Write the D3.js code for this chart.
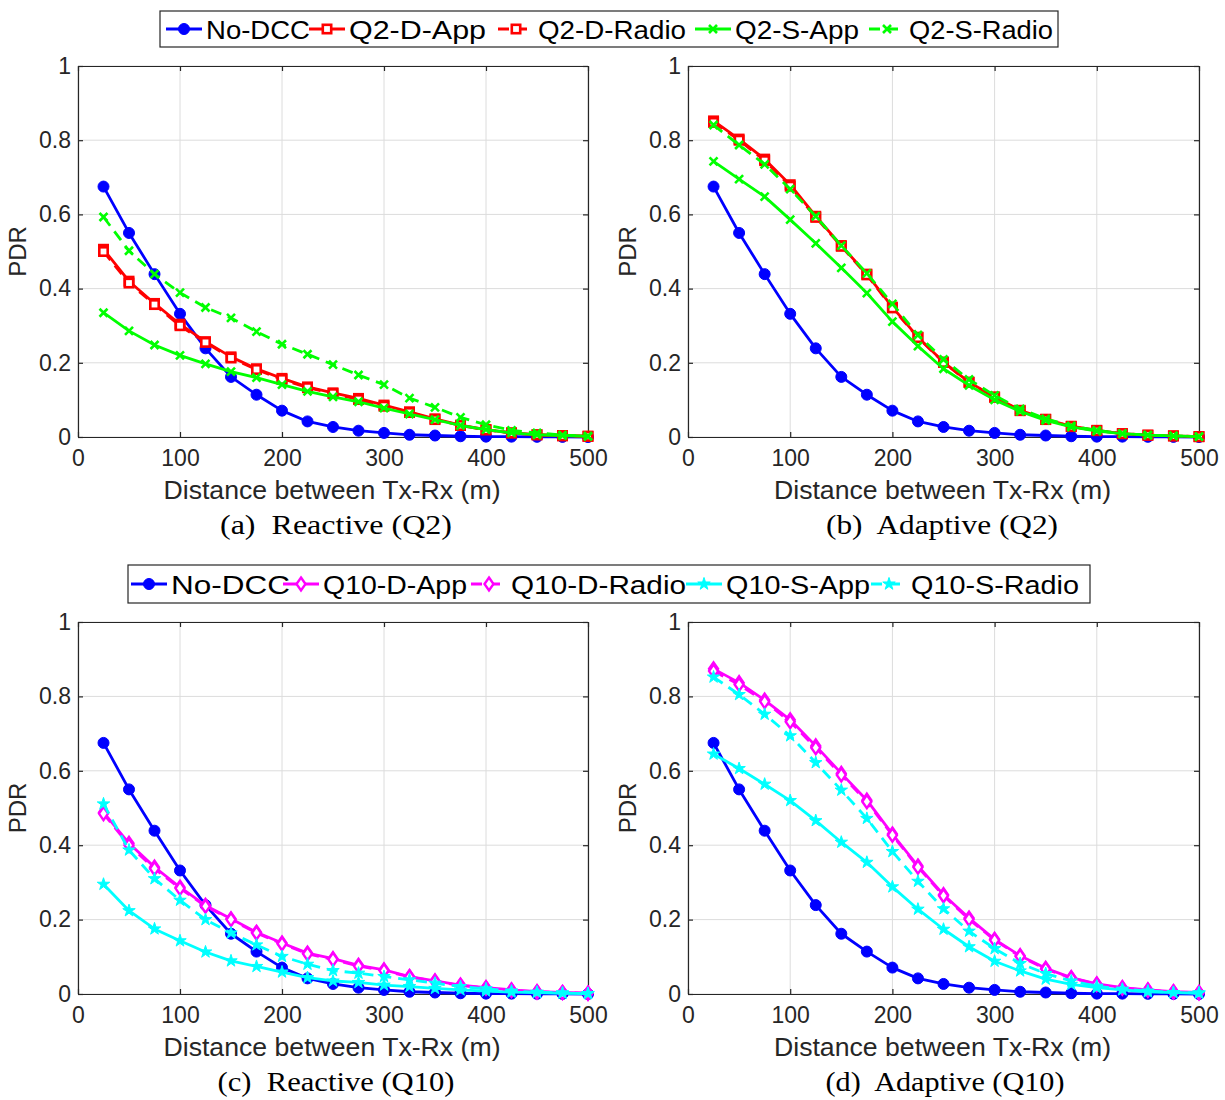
<!DOCTYPE html>
<html>
<head>
    <title>PDR vs distance</title>
    <script src="https://d3js.org/d3.v7.min.js"></script>
    <style>
        body { margin: 0; background: #fff; }
        text { font-family: "Liberation Sans", Arial, sans-serif; }
    </style>
</head>
<body>
    <svg width="1225" height="1100"></svg>
    <script>
        // distances (m)
        var dist = [25, 50, 75, 100, 125, 150, 175, 200, 225, 250, 275, 300, 325, 350, 375, 400, 425, 450, 475, 500];
        var xTicks = [0, 100, 200, 300, 400, 500];
        var yTicks = [0, 0.2, 0.4, 0.6, 0.8, 1];

        var noDCC = [0.675, 0.55, 0.439, 0.332, 0.239, 0.162, 0.114, 0.071, 0.042, 0.027, 0.017, 0.011, 0.006, 0.004, 0.002, 0.001, 0.001, 0.0005, 0.0003, 0];

        // Q2 reactive
        var q2DAppReact   = [0.506, 0.42, 0.36, 0.304, 0.257, 0.216, 0.184, 0.158, 0.135, 0.119, 0.104, 0.086, 0.068, 0.049, 0.032, 0.02, 0.011, 0.006, 0.004, 0.002];
        var q2DRadioReact = [0.50, 0.415, 0.357, 0.30, 0.255, 0.213, 0.182, 0.155, 0.133, 0.117, 0.101, 0.083, 0.066, 0.047, 0.031, 0.019, 0.011, 0.006, 0.003, 0.002];
        var q2SAppReact   = [0.335, 0.286, 0.248, 0.22, 0.197, 0.176, 0.16, 0.141, 0.123, 0.108, 0.095, 0.078, 0.062, 0.047, 0.031, 0.02, 0.011, 0.006, 0.004, 0.002];
        var q2SRadioReact = [0.593, 0.502, 0.439, 0.389, 0.349, 0.321, 0.284, 0.25, 0.223, 0.195, 0.167, 0.141, 0.105, 0.08, 0.053, 0.033, 0.018, 0.011, 0.005, 0.002];

        // Q2 adaptive
        var q2DAppAdapt   = [0.852, 0.803, 0.749, 0.68, 0.595, 0.516, 0.439, 0.35, 0.269, 0.202, 0.148, 0.108, 0.072, 0.048, 0.029, 0.018, 0.009, 0.005, 0.003, 0.001];
        var q2DRadioAdapt = [0.848, 0.80, 0.745, 0.676, 0.592, 0.514, 0.437, 0.348, 0.268, 0.201, 0.147, 0.107, 0.071, 0.047, 0.028, 0.017, 0.009, 0.005, 0.003, 0.001];
        var q2SAppAdapt   = [0.743, 0.695, 0.648, 0.586, 0.522, 0.456, 0.388, 0.311, 0.245, 0.184, 0.139, 0.10, 0.069, 0.045, 0.027, 0.016, 0.009, 0.005, 0.003, 0.001];
        var q2SRadioAdapt = [0.841, 0.787, 0.735, 0.668, 0.595, 0.516, 0.441, 0.359, 0.275, 0.209, 0.155, 0.112, 0.076, 0.049, 0.03, 0.018, 0.009, 0.005, 0.003, 0.001];

        // Q10 reactive
        var q10DAppReact   = [0.488, 0.405, 0.341, 0.287, 0.238, 0.202, 0.166, 0.137, 0.11, 0.095, 0.077, 0.065, 0.047, 0.035, 0.024, 0.017, 0.011, 0.006, 0.004, 0.002];
        var q10DRadioReact = [0.485, 0.40, 0.337, 0.284, 0.236, 0.20, 0.164, 0.135, 0.108, 0.093, 0.075, 0.063, 0.046, 0.034, 0.023, 0.016, 0.01, 0.006, 0.004, 0.002];
        var q10SAppReact   = [0.295, 0.224, 0.175, 0.143, 0.113, 0.089, 0.074, 0.059, 0.044, 0.035, 0.031, 0.024, 0.02, 0.015, 0.011, 0.008, 0.005, 0.004, 0.002, 0.001];
        var q10SRadioReact = [0.511, 0.387, 0.31, 0.252, 0.20, 0.164, 0.132, 0.101, 0.08, 0.063, 0.056, 0.047, 0.038, 0.029, 0.02, 0.014, 0.008, 0.005, 0.003, 0.001];

        // Q10 adaptive
        var q10DAppAdapt   = [0.874, 0.837, 0.79, 0.737, 0.667, 0.593, 0.521, 0.43, 0.344, 0.267, 0.204, 0.147, 0.103, 0.069, 0.044, 0.027, 0.017, 0.011, 0.006, 0.004];
        var q10DRadioAdapt = [0.868, 0.832, 0.786, 0.732, 0.662, 0.589, 0.517, 0.427, 0.341, 0.264, 0.201, 0.145, 0.101, 0.067, 0.043, 0.026, 0.016, 0.01, 0.006, 0.003];
        var q10SAppAdapt   = [0.645, 0.606, 0.564, 0.52, 0.466, 0.408, 0.354, 0.288, 0.228, 0.174, 0.127, 0.088, 0.062, 0.04, 0.026, 0.017, 0.011, 0.006, 0.004, 0.002];
        var q10SRadioAdapt = [0.852, 0.805, 0.752, 0.694, 0.622, 0.548, 0.472, 0.383, 0.303, 0.229, 0.169, 0.122, 0.082, 0.055, 0.035, 0.021, 0.013, 0.008, 0.004, 0.003];

        var legendQ2  = ["No-DCC", "Q2-D-App", "Q2-D-Radio", "Q2-S-App", "Q2-S-Radio"];
        var legendQ10 = ["No-DCC", "Q10-D-App", "Q10-D-Radio", "Q10-S-App", "Q10-S-Radio"];
        var captions = ["(a)  Reactive (Q2)", "(b)  Adaptive (Q2)", "(c)  Reactive (Q10)", "(d)  Adaptive (Q10)"];

        // line styles: [color, marker, dashed]
        var styleQ2 = [
            ["#0000ff", "circle", false],
            ["#ff0000", "square", false],
            ["#ff0000", "square", true],
            ["#00ff00", "cross", false],
            ["#00ff00", "cross", true]
        ];
        var styleQ10 = [
            ["#0000ff", "circle", false],
            ["#ff00ff", "diamond", false],
            ["#ff00ff", "diamond", true],
            ["#00ffff", "star", false],
            ["#00ffff", "star", true]
        ];

        var panels = [
            {left: 78,  top: 66,  w: 510, h: 371, styles: styleQ2,  series: [noDCC, q2DAppReact, q2DRadioReact, q2SAppReact, q2SRadioReact]},
            {left: 688, top: 66,  w: 511, h: 371, styles: styleQ2,  series: [noDCC, q2DAppAdapt, q2DRadioAdapt, q2SAppAdapt, q2SRadioAdapt]},
            {left: 78,  top: 622, w: 510, h: 372, styles: styleQ10, series: [noDCC, q10DAppReact, q10DRadioReact, q10SAppReact, q10SRadioReact]},
            {left: 688, top: 622, w: 511, h: 372, styles: styleQ10, series: [noDCC, q10DAppAdapt, q10DRadioAdapt, q10SAppAdapt, q10SRadioAdapt]}
        ];
        var captionX = [336, 942, 336, 945];
        var captionW = [232, 232, 237, 239];

        var svg = d3.select("svg");
        var axisColor = "#262626";

        function drawMarker(g, type, color) {
            if (type == "circle") {
                g.append("circle").attr("r", 5.5).attr("fill", color).attr("stroke", color);
            } else if (type == "square") {
                g.append("rect").attr("x", -4.2).attr("y", -4.2).attr("width", 8.4).attr("height", 8.4)
                    .attr("fill", "#fff").attr("stroke", color).attr("stroke-width", 2.6);
            } else if (type == "cross") {
                g.append("path").attr("d", "M-4,-4L4,4M-4,4L4,-4")
                    .attr("fill", "none").attr("stroke", color).attr("stroke-width", 2.6);
            } else if (type == "diamond") {
                g.append("path").attr("d", "M0,-6.5L4.5,0L0,6.5L-4.5,0Z")
                    .attr("fill", "#fff").attr("stroke", color).attr("stroke-width", 2.4);
            } else if (type == "star") {
                g.append("path").attr("d", d3.symbol().type(d3.symbolStar).size(48)())
                    .attr("fill", color).attr("stroke", color).attr("stroke-width", 1);
            }
        }

        panels.forEach(function(p, pi) {
            var x = d3.scaleLinear().domain([0, 500]).range([0, p.w]);
            var y = d3.scaleLinear().domain([0, 1]).range([p.h, 0]);
            var g = svg.append("g").attr("transform", "translate(" + p.left + "," + p.top + ")");

            // grid
            g.append("g").selectAll("line").data(xTicks).enter().append("line")
                .attr("x1", function(d) { return x(d); }).attr("x2", function(d) { return x(d); })
                .attr("y1", 0).attr("y2", p.h)
                .attr("stroke", "#dcdcdc").attr("stroke-width", 1);
            g.append("g").selectAll("line").data(yTicks).enter().append("line")
                .attr("y1", function(d) { return y(d); }).attr("y2", function(d) { return y(d); })
                .attr("x1", 0).attr("x2", p.w)
                .attr("stroke", "#dcdcdc").attr("stroke-width", 1);

            // axes, ticks pointing inward on all four sides
            var xb = g.append("g").attr("transform", "translate(0," + p.h + ")")
                .call(d3.axisBottom(x).tickValues(xTicks).tickSize(-5).tickPadding(13).tickSizeOuter(0));
            var xt = g.append("g")
                .call(d3.axisTop(x).tickValues(xTicks).tickSize(-5).tickFormat("").tickSizeOuter(0));
            var yl = g.append("g")
                .call(d3.axisLeft(y).tickValues(yTicks).tickSize(-5).tickPadding(7).tickSizeOuter(0)
                    .tickFormat(function(d) { return d == 0 || d == 1 ? d3.format("d")(d) : d3.format(".1f")(d); }));
            var yr = g.append("g").attr("transform", "translate(" + p.w + ",0)")
                .call(d3.axisRight(y).tickValues(yTicks).tickSize(-5).tickFormat("").tickSizeOuter(0));
            [xb, xt, yl, yr].forEach(function(a) {
                a.select(".domain").attr("stroke", axisColor).attr("stroke-width", 1.2);
                a.selectAll(".tick line").attr("stroke", axisColor).attr("stroke-width", 1.2);
                a.selectAll(".tick text").attr("fill", axisColor).style("font-size", "23px")
                    .style("font-family", "Liberation Sans, Arial, sans-serif");
            });

            // lines + markers
            var line = d3.line()
                .x(function(d, i) { return x(dist[i]); })
                .y(function(d) { return y(d); });

            p.series.forEach(function(vals, si) {
                var st = p.styles[si];
                g.append("path").datum(vals)
                    .attr("d", line)
                    .attr("fill", "none")
                    .attr("stroke", st[0])
                    .attr("stroke-width", 2.8)
                    .attr("stroke-linejoin", "round")
                    .attr("stroke-dasharray", st[2] ? "11,7" : null);
                g.append("g").selectAll("g").data(vals).enter().append("g")
                    .attr("transform", function(d, i) { return "translate(" + x(dist[i]) + "," + y(d) + ")"; })
                    .each(function() { drawMarker(d3.select(this), st[1], st[0]); });
            });

            // labels
            g.append("text")
                .attr("x", p.w / 2 - 1).attr("y", p.h + 62)
                .attr("text-anchor", "middle")
                .attr("fill", axisColor)
                .attr("textLength", 337).attr("lengthAdjust", "spacingAndGlyphs")
                .style("font-size", "25px")
                .text("Distance between Tx-Rx (m)");
            g.append("text")
                .attr("transform", "translate(-52," + (p.h / 2) + ") rotate(-90)")
                .attr("text-anchor", "middle")
                .attr("fill", axisColor)
                .style("font-size", "24px")
                .text("PDR");
            svg.append("text")
                .attr("x", captionX[pi]).attr("y", p.top + p.h + 97)
                .attr("text-anchor", "middle")
                .attr("fill", "#000")
                .attr("textLength", captionW[pi]).attr("lengthAdjust", "spacingAndGlyphs")
                .style("white-space", "pre")
                .style("font-family", "Liberation Serif, Times New Roman, serif")
                .style("font-size", "27px")
                .text(captions[pi]);
        });

        // legends
        function drawLegend(box, names, styles, starts, ends) {
            var lg = svg.append("g");
            lg.append("rect")
                .attr("x", box[0]).attr("y", box[1]).attr("width", box[2] - box[0]).attr("height", box[3] - box[1])
                .attr("fill", "#fff").attr("stroke", axisColor).attr("stroke-width", 1.2);
            var cy = (box[1] + box[3]) / 2;
            names.forEach(function(n, i) {
                var st = styles[i];
                var s0 = starts[i] - 40, s1 = starts[i] - 4;
                lg.append("line")
                    .attr("x1", s0).attr("x2", s1).attr("y1", cy).attr("y2", cy)
                    .attr("stroke", st[0]).attr("stroke-width", 2.8)
                    .attr("stroke-dasharray", st[2] ? "11,7" : null);
                var mg = lg.append("g").attr("transform", "translate(" + ((s0 + s1) / 2) + "," + cy + ")");
                drawMarker(mg, st[1], st[0]);
                lg.append("text")
                    .attr("x", starts[i]).attr("y", cy + 9.5)
                    .attr("fill", "#000")
                    .attr("textLength", ends[i] - starts[i]).attr("lengthAdjust", "spacingAndGlyphs")
                    .style("font-size", "26px")
                    .text(n);
            });
        }
        drawLegend([160, 11, 1058, 47], legendQ2, styleQ2, [206, 349, 538, 735, 909], [310, 486, 686, 859, 1053]);
        drawLegend([128, 565, 1090, 603], legendQ10, styleQ10, [171, 323, 511, 726, 911], [290, 467, 686, 870, 1079]);
    </script>
</body>
</html>
